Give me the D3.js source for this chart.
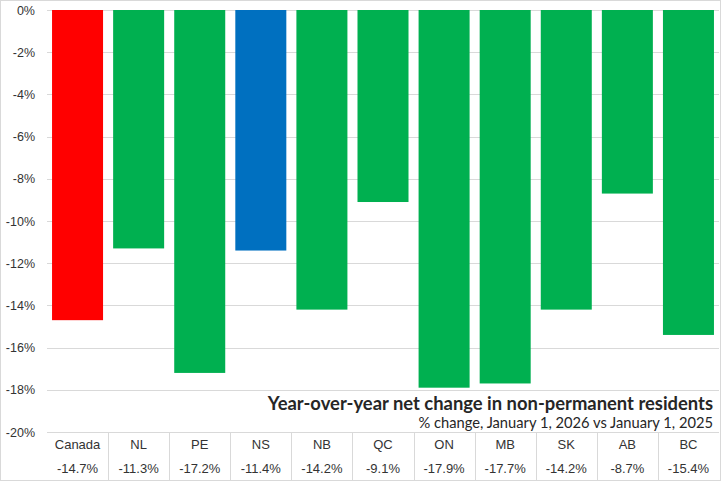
<!DOCTYPE html>
<html lang="en">
<head>
  <meta charset="UTF-8">
  <title>Year-over-year net change in non-permanent residents</title>
  <style>
    body { margin: 0; background: #fff; }
    .axis text { font-family: "Liberation Sans", Arial, sans-serif; font-size: 12.5px; fill: #333; }
    .grid line { stroke: #d9d9d9; stroke-width: 1; shape-rendering: crispEdges; }
    .tbl text { font-family: "Liberation Sans", Arial, sans-serif; font-size: 13px; fill: #333; text-anchor: middle; }
    .tbl line { stroke: #d9d9d9; shape-rendering: crispEdges; }
  </style>
</head>
<body>
  <div id="chart"></div>
  <script src="https://d3js.org/d3.v7.min.js"></script>
  <script>
    var categories = ['Canada', 'NL', 'PE', 'NS', 'NB', 'QC', 'ON', 'MB', 'SK', 'AB', 'BC']
    var values = [-14.7, -11.3, -17.2, -11.4, -14.2, -9.1, -17.9, -17.7, -14.2, -8.7, -15.4]
    var yTicks = [0, -2, -4, -6, -8, -10, -12, -14, -16, -18, -20]
    var colors = { Canada: '#ff0000', NS: '#0070c0' }
    var title = 'Year-over-year net change in non-permanent residents'
    var subtitle = '% change, January 1, 2026 vs January 1, 2025'

    var width = 721
    var height = 481
    var padding = { left: 47, right: 2, top: 10, bottom: 49 }

    var svg = d3.select('#chart')
      .append('svg')
      .attr('width', width)
      .attr('height', height)

    // outer border
    svg.append('rect')
      .attr('x', 0.5).attr('y', 0.5)
      .attr('width', width - 1).attr('height', height - 1)
      .attr('fill', '#fff')
      .attr('stroke', '#d9d9d9')

    var xScale = d3.scaleBand()
      .domain(categories)
      .range([padding.left, width - padding.right])
      .paddingInner(0.165)
      .paddingOuter(0.0825)

    var yScale = d3.scaleLinear()
      .domain([0, -20])
      .range([padding.top, height - padding.bottom])

    // gridlines
    svg.append('g')
      .attr('class', 'grid')
      .selectAll('line')
      .data(yTicks)
      .enter()
      .append('line')
      .attr('x1', padding.left)
      .attr('x2', width - padding.right)
      .attr('y1', function (d) { return Math.round(yScale(d)) + 0.5 })
      .attr('y2', function (d) { return Math.round(yScale(d)) + 0.5 })

    // y axis labels
    var yAxis = d3.axisLeft(yScale)
      .tickValues(yTicks)
      .tickSize(0)
      .tickPadding(12)
      .tickFormat(function (d) { return d + '%' })
    svg.append('g')
      .attr('class', 'axis')
      .attr('transform', 'translate(' + padding.left + ',0)')
      .call(yAxis)
      .call(function (g) { g.select('.domain').remove() })

    // bars
    svg.selectAll('.bar')
      .data(values)
      .enter()
      .append('rect')
      .attr('class', 'bar')
      .attr('x', function (d, i) { return xScale(categories[i]) })
      .attr('width', xScale.bandwidth())
      .attr('y', yScale(0))
      .attr('height', function (d) { return yScale(d) - yScale(0) })
      .attr('fill', function (d, i) { return colors[categories[i]] || '#00b050' })

    // title block
    svg.append('text')
      .attr('x', 713)
      .attr('y', 410)
      .attr('text-anchor', 'end')
      .attr('font-family', 'Lato, "Open Sans", sans-serif')
      .attr('font-weight', 'bold')
      .attr('font-size', 18.4)
      .attr('fill', '#262626')
      .text(title)
    svg.append('text')
      .attr('x', 713)
      .attr('y', 428)
      .attr('text-anchor', 'end')
      .attr('font-family', 'Lato, "Open Sans", sans-serif')
      .attr('font-size', 14.7)
      .attr('fill', '#262626')
      .text(subtitle)

    // data table
    var tbl = svg.append('g').attr('class', 'tbl')
    var tableTop = Math.round(yScale(-20))
    tbl.selectAll('.vline')
      .data(categories.slice(1))
      .enter()
      .append('line')
      .attr('class', 'vline')
      .attr('x1', function (d) { return Math.round(xScale(d) - xScale.step() * xScale.paddingInner() / 2) + 0.5 })
      .attr('x2', function (d) { return Math.round(xScale(d) - xScale.step() * xScale.paddingInner() / 2) + 0.5 })
      .attr('y1', tableTop)
      .attr('y2', height)
    tbl.selectAll('.cat')
      .data(categories)
      .enter()
      .append('text')
      .attr('class', 'cat')
      .attr('x', function (d) { return xScale(d) + xScale.bandwidth() / 2 })
      .attr('y', 449)
      .text(function (d) { return d })
    tbl.selectAll('.val')
      .data(values)
      .enter()
      .append('text')
      .attr('class', 'val')
      .attr('x', function (d, i) { return xScale(categories[i]) + xScale.bandwidth() / 2 })
      .attr('y', 473)
      .text(function (d) { return d.toFixed(1) + '%' })
  </script>
</body>
</html>
